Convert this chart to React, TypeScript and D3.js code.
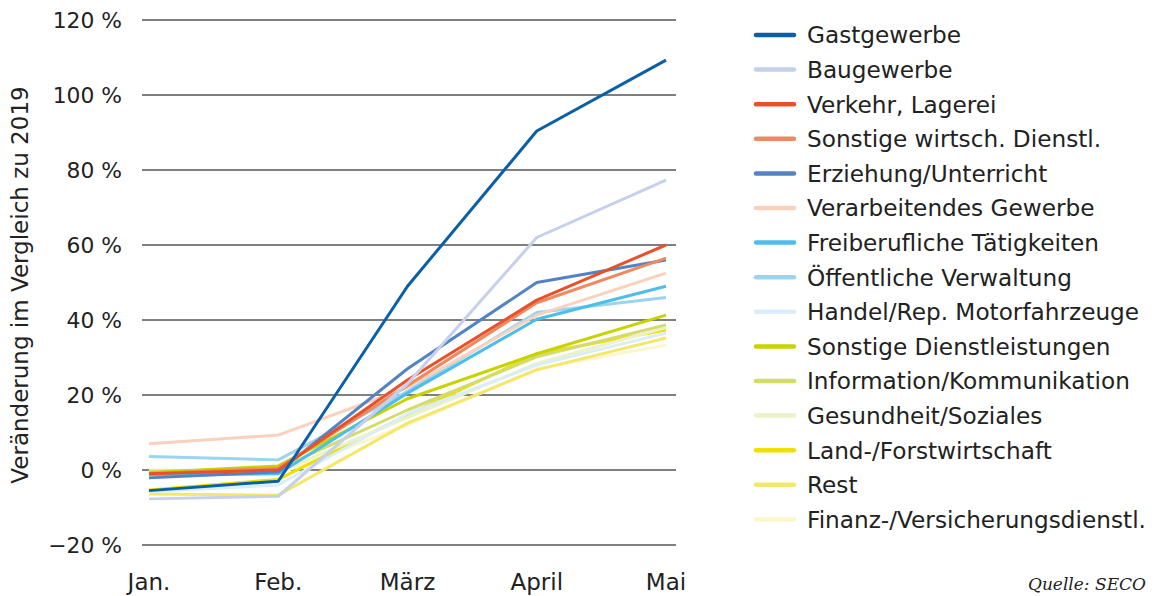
import React from "react";
import * as d3 from "d3";

const months = ["Jan.", "Feb.", "März", "April", "Mai"];
const yTicks = [-20, 0, 20, 40, 60, 80, 100, 120];

const seriesNames = [
  "Gastgewerbe",
  "Baugewerbe",
  "Verkehr, Lagerei",
  "Sonstige wirtsch. Dienstl.",
  "Erziehung/Unterricht",
  "Verarbeitendes Gewerbe",
  "Freiberufliche Tätigkeiten",
  "Öffentliche Verwaltung",
  "Handel/Rep. Motorfahrzeuge",
  "Sonstige Dienstleistungen",
  "Information/Kommunikation",
  "Gesundheit/Soziales",
  "Land-/Forstwirtschaft",
  "Rest",
  "Finanz-/Versicherungsdienstl.",
];

const seriesColors = [
  "#0a5fa8",
  "#c6d0ea",
  "#e8512c",
  "#ef8a5e",
  "#5283c3",
  "#fbd0bc",
  "#4dbde9",
  "#9cd4f0",
  "#d9eefa",
  "#c6d300",
  "#d3dc6b",
  "#ecf1c8",
  "#efe000",
  "#f4e86b",
  "#fbf6cc",
];

const gastgewerbe = [-5.5, -3, 49, 90.4, 109.3];
const baugewerbe = [-7.7, -7, 23, 62, 77.3];
const verkehr = [-1, 0, 24, 45.3, 60];
const sonstWirtsch = [-1, 0.5, 22.5, 44.6, 56.5];
const erziehung = [-2.1, -0.5, 27, 50, 56];
const verarbeitend = [7, 9.3, 22, 41.3, 52.5];
const freiberuf = [-1.3, -1, 20.5, 40.2, 49];
const oeffentlich = [3.6, 2.7, 21, 42, 46];
const handel = [-5.8, -4, 15, 28, 36.5];
const sonstDienst = [-0.7, 1.1, 19, 31, 41.3];
const information = [-0.3, 0.3, 16, 30.2, 38.7];
const gesundheit = [0, -0.5, 14, 28.4, 38];
const land = [-5.3, -2.5, 14.7, 31, 37.3];
const rest = [-6.4, -6.7, 12.5, 26.7, 35.2];
const finanz = [-1.5, -1, 12, 27, 33.3];

const seriesValues = [
  gastgewerbe,
  baugewerbe,
  verkehr,
  sonstWirtsch,
  erziehung,
  verarbeitend,
  freiberuf,
  oeffentlich,
  handel,
  sonstDienst,
  information,
  gesundheit,
  land,
  rest,
  finanz,
];

const FONT = "'DejaVu Sans', 'Open Sans', sans-serif";
const TEXT = "#222";

export default function App() {
  const x = d3.scalePoint<string>().domain(months).range([149, 666]);
  const y = d3.scaleLinear().domain([-20, 120]).range([545, 20]);
  const line = d3
    .line<number>()
    .x((_, i) => x(months[i]) as number)
    .y((d) => y(d));

  const drawOrder = seriesNames.map((_, i) => i).reverse();

  return (
    <svg
      width={1155}
      height={596}
      style={{ position: "absolute", left: 0, top: 0, background: "#fff" }}
      fontFamily={FONT}
    >
      {yTicks.map((t) => (
        <g key={t}>
          <line x1={142} x2={676} y1={y(t)} y2={y(t)} stroke="#000" strokeWidth={1} />
          <text
            x={122}
            y={y(t)}
            dy="0.36em"
            textAnchor="end"
            fontSize={21.8}
            fill={TEXT}
          >
            {(t < 0 ? "\u2212" + Math.abs(t) : String(t)) + " %"}
          </text>
        </g>
      ))}
      {months.map((m) => (
        <text
          key={m}
          x={x(m) as number}
          y={590}
          textAnchor="middle"
          fontSize={23}
          fill={TEXT}
        >
          {m}
        </text>
      ))}
      <text
        transform="translate(28,285) rotate(-90)"
        textAnchor="middle"
        fontSize={23}
        fill={TEXT}
      >
        Veränderung im Vergleich zu 2019
      </text>
      {drawOrder.map((i) => (
        <path
          key={seriesNames[i]}
          d={line(seriesValues[i]) as string}
          fill="none"
          stroke={seriesColors[i]}
          strokeWidth={3}
          strokeLinejoin="round"
        />
      ))}
      {seriesNames.map((n, i) => {
        const ly = 35 + i * 34.6;
        return (
          <g key={n}>
            <line
              x1={756}
              x2={794}
              y1={ly}
              y2={ly}
              stroke={seriesColors[i]}
              strokeWidth={4.5}
              strokeLinecap="round"
            />
            <text x={807} y={ly} dy="0.36em" fontSize={23.2} fill={TEXT}>
              {n}
            </text>
          </g>
        );
      })}
      <text
        x={1146}
        y={590}
        textAnchor="end"
        fontSize={17}
        fontStyle="italic"
        fontFamily="'DejaVu Serif', 'Liberation Serif', serif"
        fill={TEXT}
      >
        Quelle: SECO
      </text>
    </svg>
  );
}
